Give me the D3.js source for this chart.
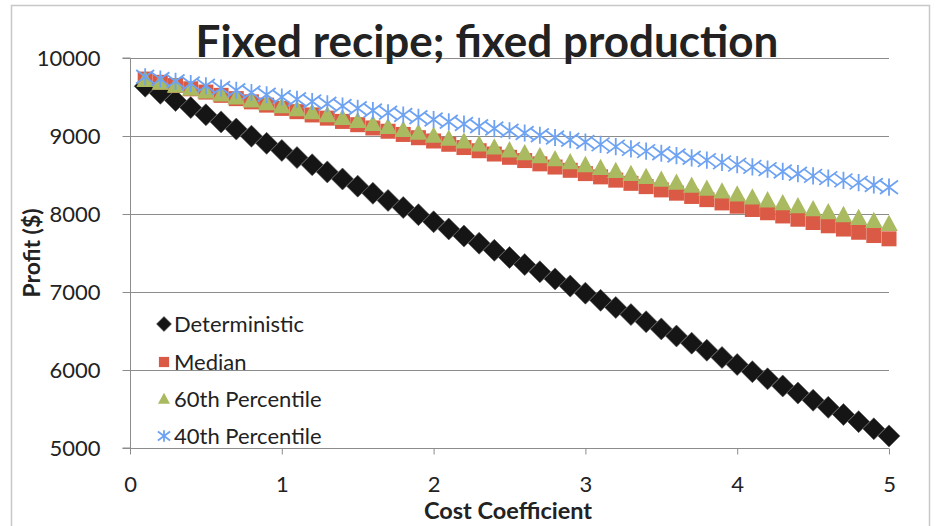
<!DOCTYPE html>
<html><head><meta charset="utf-8">
<script src="https://cdn.jsdelivr.net/npm/d3@7/dist/d3.min.js"></script>
<style>html,body{margin:0;padding:0;background:#fff}svg{display:block}</style>
</head><body><svg id="c" width="938" height="526"></svg>
<script>
const xValues = [0.1,0.2,0.3,0.4,0.5,0.6,0.7,0.8,0.9,1.0,1.1,1.2,1.3,1.4,1.5,1.6,1.7,1.8,1.9,2.0,2.1,2.2,2.3,2.4,2.5,2.6,2.7,2.8,2.9,3.0,3.1,3.2,3.3,3.4,3.5,3.6,3.7,3.8,3.9,4.0,4.1,4.2,4.3,4.4,4.5,4.6,4.7,4.8,4.9,5.0];
const deterministic = [9638,9547,9455,9364,9272,9181,9089,8998,8906,8815,8723,8632,8540,8449,8357,8266,8174,8083,7991,7900,7808,7717,7625,7534,7442,7351,7259,7168,7076,6985,6893,6802,6710,6619,6527,6436,6344,6253,6161,6070,5978,5887,5795,5704,5612,5521,5429,5338,5246,5155];
const median = [9730,9688,9647,9605,9563,9521,9479,9438,9396,9354,9312,9270,9229,9187,9145,9103,9061,9020,8978,8936,8894,8852,8811,8769,8727,8685,8643,8602,8560,8518,8476,8434,8393,8351,8309,8267,8225,8184,8142,8100,8058,8016,7975,7933,7891,7849,7807,7766,7724,7682];
const pct60 = [9720,9683,9645,9607,9570,9532,9494,9456,9419,9381,9343,9306,9268,9230,9193,9155,9117,9079,9042,9004,8966,8929,8891,8853,8816,8778,8740,8702,8665,8627,8589,8552,8514,8476,8439,8401,8363,8325,8288,8250,8212,8175,8137,8099,8062,8024,7986,7948,7911,7873];
const pct40 = [9760,9731,9702,9673,9645,9616,9587,9558,9529,9500,9471,9442,9413,9384,9356,9327,9298,9269,9240,9211,9182,9153,9124,9095,9067,9038,9009,8980,8951,8922,8893,8864,8835,8806,8778,8749,8720,8691,8662,8633,8604,8575,8546,8517,8489,8460,8431,8402,8373,8344];
const seriesNames = ["Deterministic","Median","60th Percentile","40th Percentile"];
const xTicks = [0,1,2,3,4,5];
const yTicks = [5000,6000,7000,8000,9000,10000];

const svg = d3.select("#c");
const font = "Lato, 'Open Sans', sans-serif";
const L = 130, R = 889, T = 58, B = 448;
const x = d3.scaleLinear().domain([0,5]).range([L,R]);
const y = d3.scaleLinear().domain([5000,10000]).range([B,T]);

svg.append("rect").attr("x",11.5).attr("y",5.5).attr("width",918).attr("height",540)
  .attr("fill","none").attr("stroke","#c8c8c8").attr("stroke-width",1.5);

// gridlines
svg.append("g").selectAll("line").data(yTicks.filter(d=>d>5000)).join("line")
  .attr("x1",L).attr("x2",R).attr("y1",d=>Math.round(y(d))+0.5).attr("y2",d=>Math.round(y(d))+0.5)
  .attr("stroke","#8c8c8c").attr("stroke-width",1);

// y axis
const ya = svg.append("g").attr("transform",`translate(${L+0.5},0)`)
  .call(d3.axisLeft(y).tickValues(yTicks).tickSize(8).tickPadding(22).tickFormat(d3.format("d")));
ya.select(".domain").attr("stroke","#8c8c8c").attr("d",`M-8,${T}H0V${B}H-8`);
ya.selectAll(".tick line").attr("stroke","#8c8c8c");
ya.selectAll("text").attr("font-family",font).attr("font-size",22).attr("fill","#222");

// x axis
const xa = svg.append("g").attr("transform",`translate(0,${B+0.5})`)
  .call(d3.axisBottom(x).tickValues(xTicks).tickSize(6).tickPadding(22).tickFormat(d3.format("d")));
xa.select(".domain").attr("stroke","#8c8c8c").attr("d",`M${L},0H${R}`);
xa.selectAll(".tick line").attr("stroke","#8c8c8c");
xa.selectAll("text").attr("font-family",font).attr("font-size",22).attr("fill","#222");

// symbols
const colors = ["#151515","#db5a45","#a9ba60","#6ea2f2"];
function drawMarker(g, i, k){
  if(i===0){
    const s=11*k;
    g.append("path").attr("d",`M0,${-s}L${s},0L0,${s}L${-s},0Z`).attr("fill",colors[0])
      .attr("stroke","#555").attr("stroke-width",0.6);
  } else if(i===1){
    const s=7.5*k;
    g.append("rect").attr("x",-s).attr("y",-s).attr("width",2*s).attr("height",2*s).attr("fill",colors[1]);
  } else if(i===2){
    const s=8.8*k;
    g.append("path").attr("d",`M0,${-s*1.05}L${s},${s*0.8}L${-s},${s*0.8}Z`).attr("fill",colors[2]);
  } else {
    const s=9*k;
    g.append("path").attr("d",`M${-s},${-s*0.75}L${s},${s*0.75}M${-s},${s*0.75}L${s},${-s*0.75}M0,${-s*0.95}V${s*0.95}`)
      .attr("stroke",colors[3]).attr("stroke-width",1.8).attr("fill","none");
  }
}
const allSeries = [deterministic, median, pct60, pct40];
allSeries.forEach((vals,i)=>{
  const g = svg.append("g");
  vals.forEach((v,j)=>{
    const m = g.append("g").attr("transform",`translate(${x(xValues[j])},${y(v)})`);
    drawMarker(m,i,1);
  });
});

// legend
const legY = [324,362,399,436];
seriesNames.forEach((n,i)=>{
  const m = svg.append("g").attr("transform",`translate(164,${legY[i]})`);
  drawMarker(m,i,0.68);
  svg.append("text").attr("x",174).attr("y",legY[i]).attr("dy","0.36em")
    .attr("font-family",font).attr("font-size",22).attr("fill","#222").text(n);
});

// titles
svg.append("text").attr("x",487).attr("y",57).attr("text-anchor","middle")
  .attr("font-family",font).attr("font-weight","bold").attr("font-size",44).attr("fill","#222")
  .text("Fixed recipe; fixed production");
svg.append("text").attr("x",508).attr("y",519).attr("text-anchor","middle")
  .attr("font-family",font).attr("font-weight","bold").attr("font-size",23.5).attr("fill","#222")
  .text("Cost Coefficient");
svg.append("text").attr("transform","translate(40,253) rotate(-90)").attr("text-anchor","middle")
  .attr("font-family",font).attr("font-weight","bold").attr("font-size",23).attr("fill","#222")
  .text("Profit ($)");
</script></body></html>
